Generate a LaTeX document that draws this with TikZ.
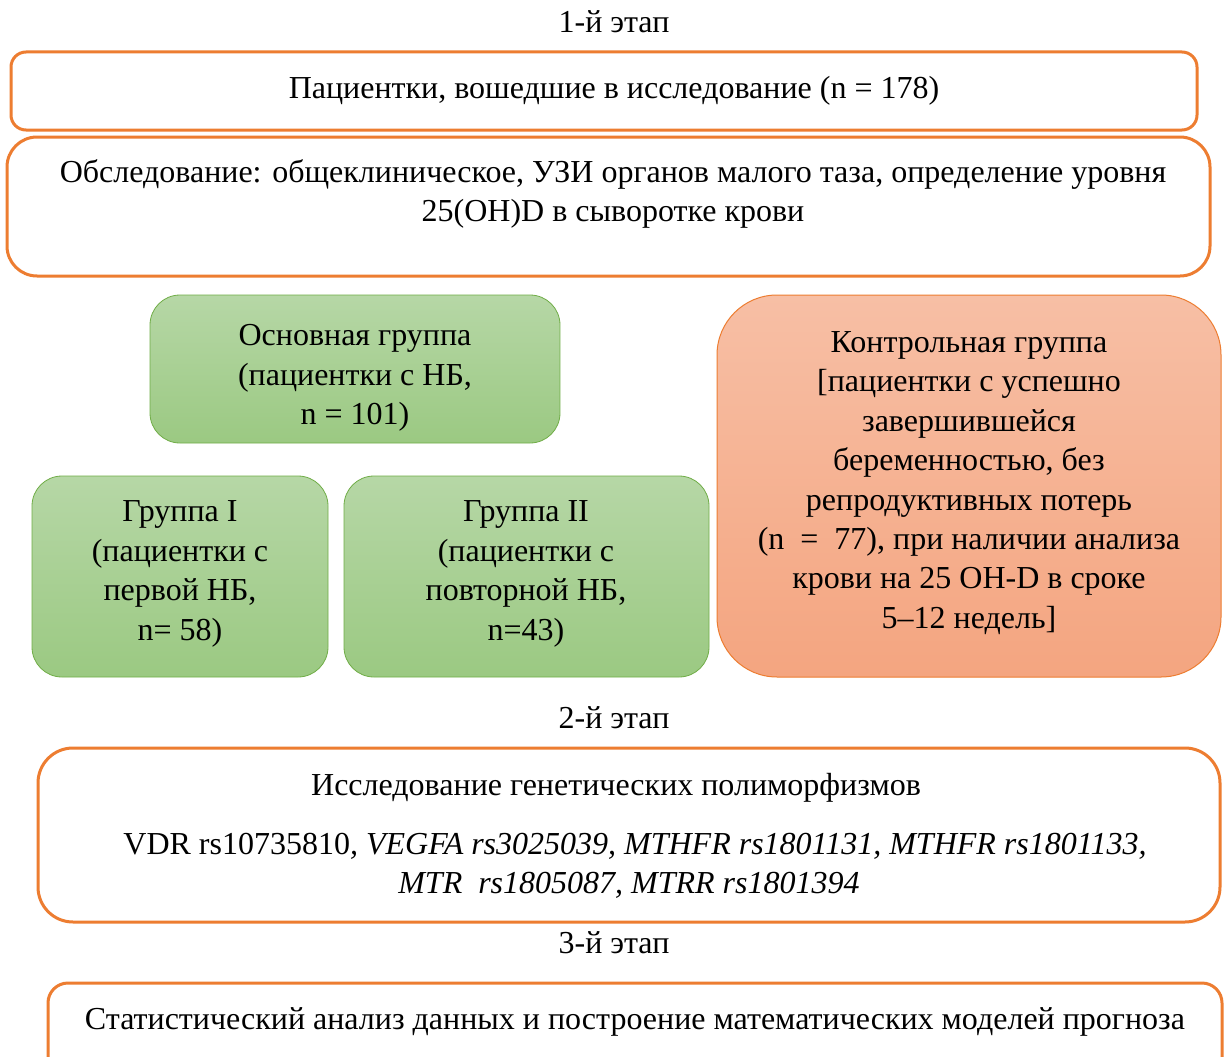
\documentclass[tikz,border=0pt]{standalone}
\usepackage{fontspec}
\setmainfont{Liberation Serif}
\begin{document}
\begin{tikzpicture}[x=1pt,y=-1pt,
  txt/.style={font=\fontsize{32}{39.4}\selectfont, align=center, inner sep=0pt, text=black},
  obox/.style={draw={rgb,255:red,237;green,125;blue,49}, line width=3pt, fill=white},
  gbox/.style={draw={rgb,255:red,112;green,173;blue,71}, line width=0.8pt, rounded corners=30pt,
     top color={rgb,255:red,182;green,215;blue,166}, bottom color={rgb,255:red,155;green,201;blue,130}},
  cbox/.style={draw={rgb,255:red,237;green,125;blue,49}, line width=1pt, rounded corners=60pt,
     top color={rgb,255:red,247;green,191;blue,165}, bottom color={rgb,255:red,244;green,165;blue,128}}
]
\useasboundingbox (0,0) rectangle (1224,1057);
\fill[white] (0,0) rectangle (1224,1057);

\node[txt] (s1) at (614,22) {1-й этап};

\draw[obox, rounded corners=15pt] (11,52) rectangle (1197,130);
\node[txt] (t1) at (614,91) {Пациентки, вошедшие в исследование (n = 178)};

\draw[obox, rounded corners=30pt] (7,137) rectangle (1210,276);
\node[txt] (t2) at (613,194) {Обследование: общеклиническое, УЗИ органов малого таза, определение уровня\\25(OH)D в сыворотке крови};

\draw[gbox] (150,295) rectangle (560,443);
\node[txt] (tm) at (355,378) {Основная группа\\(пациентки с НБ,\\n = 101)};

\draw[gbox] (32,476) rectangle (328,677);
\node[txt] (tg1) at (180,574) {Группа I\\(пациентки с\\первой НБ,\\n= 58)};

\draw[gbox] (344,476) rectangle (709,677);
\node[txt] (tg2) at (526,574) {Группа II\\(пациентки с\\повторной НБ,\\n=43)};

\draw[cbox] (717,295) rectangle (1221,677);
\node[txt] (tc) at (969,483) {Контрольная группа\\{}[пациентки с успешно\\завершившейся\\беременностью, без\\репродуктивных потерь\\(n \ = \ 77), при наличии анализа\\крови на 25 OH-D в сроке\\5–12 недель]};

\node[txt] (s2) at (614,718) {2-й этап};

\draw[obox, rounded corners=35pt] (38,748) rectangle (1220,922);
\node[txt] (t3) at (635,836) {\hspace*{-38pt}Исследование генетических полиморфизмов\\[19pt]VDR rs10735810\textit{, VEGFA rs3025039, MTHFR rs1801131, MTHFR rs1801133,}\\\hspace*{-12pt}\textit{MTR \ rs1805087, MTRR rs1801394}};

\node[txt] (s3) at (614,943) {3-й этап};

\draw[obox, rounded corners=20pt] (48,983) rectangle (1222,1080);
\node[txt] (t4) at (635,1022) {Статистический анализ данных и построение математических моделей прогноза};
\end{tikzpicture}
\end{document}
